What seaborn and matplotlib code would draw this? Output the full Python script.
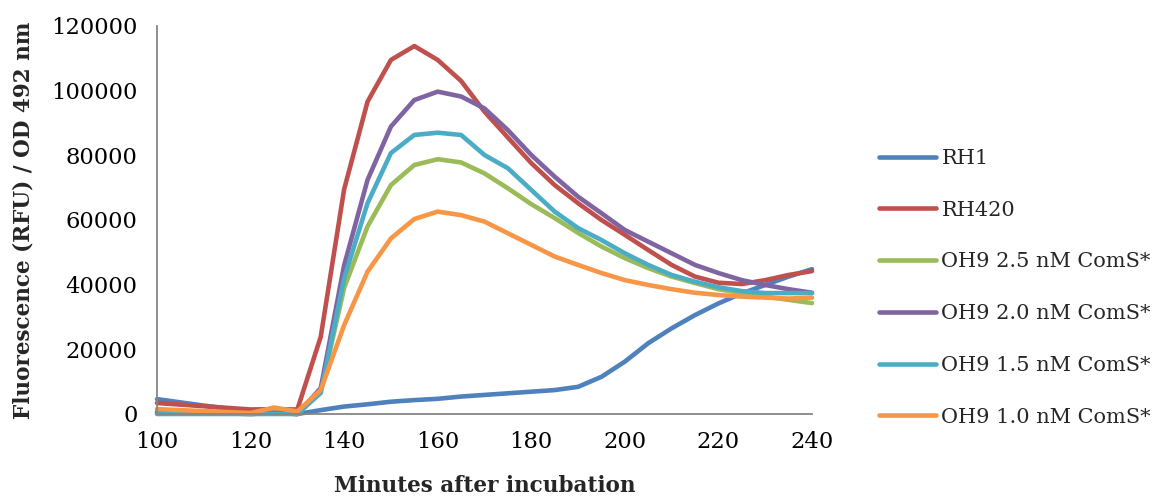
import numpy as np
import pandas as pd
import matplotlib
matplotlib.use("Agg")
import matplotlib.pyplot as plt
import seaborn as sns
from matplotlib.lines import Line2D

minutes = [100, 105, 110, 115, 120, 125, 130, 135, 140, 145, 150, 155, 160, 165, 170,
           175, 180, 185, 190, 195, 200, 205, 210, 215, 220, 225, 230, 235, 240]

rh1 = [4600, 3600, 2600, 1700, 700, 400, 0, 1200, 2300, 3000, 3800, 4300, 4700, 5400, 5900,
       6400, 6900, 7400, 8400, 11500, 16200, 21900, 26500, 30600, 34200, 37300, 39900, 42500, 44800]
rh420 = [3400, 2900, 2400, 1900, 1400, 1500, 1400, 23900, 69500, 96600, 109500, 113800, 109500, 103000, 93500,
         85500, 77600, 70800, 65200, 60000, 55400, 50700, 46100, 42500, 40600, 40200, 41400, 43000, 44200]
oh9_25 = [800, 600, 400, 200, 0, 500, 0, 7000, 39000, 58000, 70800, 77000, 78800, 77800, 74400,
          69800, 64900, 60600, 56000, 51800, 48200, 45100, 42500, 40500, 38600, 37400, 36300, 35300, 34300]
oh9_20 = [500, 400, 300, 200, 0, 300, 0, 8000, 46000, 72400, 88900, 97100, 99700, 98200, 94500,
          87800, 80100, 73400, 67200, 62100, 56900, 53300, 49700, 46100, 43600, 41400, 39900, 38600, 37500]
oh9_15 = [0, 0, 0, 0, 0, 0, 0, 6500, 42000, 65200, 80700, 86300, 87000, 86300, 80100,
          76000, 69300, 62600, 57500, 53800, 49700, 46100, 43000, 40900, 39200, 38000, 37400, 37400, 37400]
oh9_10 = [1500, 1200, 900, 600, 300, 2000, 800, 7400, 27500, 44000, 54300, 60300, 62600, 61500, 59500,
          55900, 52300, 48700, 46100, 43600, 41400, 39900, 38600, 37500, 36800, 36300, 36000, 35700, 36000]

series_names = ["RH1", "RH420", "OH9 2.5 nM ComS*", "OH9 2.0 nM ComS*",
                "OH9 1.5 nM ComS*", "OH9 1.0 nM ComS*"]
series_values = [rh1, rh420, oh9_25, oh9_20, oh9_15, oh9_10]
colors = ["#4F81BD", "#C0504D", "#9BBB59", "#8064A2", "#4BACC6", "#F79646"]

frames = []
for name, vals in zip(series_names, series_values):
    frames.append(pd.DataFrame({"Minutes": minutes, "Value": vals, "Series": name}))
df = pd.concat(frames, ignore_index=True)

sns.set_theme(style="white")
plt.rcParams['font.family'] = ['DejaVu Serif']

fig = plt.figure(figsize=(11.53, 5.0), dpi=100)
ax = fig.add_axes([157/1153, 86/500, (812-157)/1153, (414-26)/500])

sns.lineplot(data=df, x="Minutes", y="Value", hue="Series", hue_order=series_names,
             palette=colors, linewidth=3.3, ax=ax, legend=False, sort=False,
             solid_joinstyle='round', solid_capstyle='round')

ax.set_xlim(100, 240)
ax.set_ylim(0, 120000)
ax.set_xticks(range(100, 241, 20))
ax.set_yticks(range(0, 120001, 20000))
ax.tick_params(axis='both', which='major', labelsize=16.3, colors='#868686',
               labelcolor='black', length=7, width=1.3, direction='out', pad=5)
ax.tick_params(axis='y', pad=7)
for s in ['top', 'right']:
    ax.spines[s].set_visible(False)
for s in ['left', 'bottom']:
    ax.spines[s].set_color('#868686')
    ax.spines[s].set_linewidth(1.3)
for line in ax.lines:
    line.set_clip_on(False)

ax.set_xlabel("Minutes after incubation", fontsize=15.5, fontweight='bold', labelpad=16)
ax.set_ylabel("Fluorescence (RFU) / OD 492 nm", fontsize=15.5, fontweight='bold', labelpad=12)

handles = [Line2D([0], [0], color=c, linewidth=3.3, solid_capstyle='round') for c in colors]
fig.legend(handles, series_names, loc='upper left', bbox_to_anchor=(879/1153, 1 - 149/500),
           frameon=False, fontsize=15, handlelength=2.75, handletextpad=0.25,
           labelspacing=1.57, borderaxespad=0, borderpad=0)

fig.savefig("out.png", dpi=100, facecolor='white')
